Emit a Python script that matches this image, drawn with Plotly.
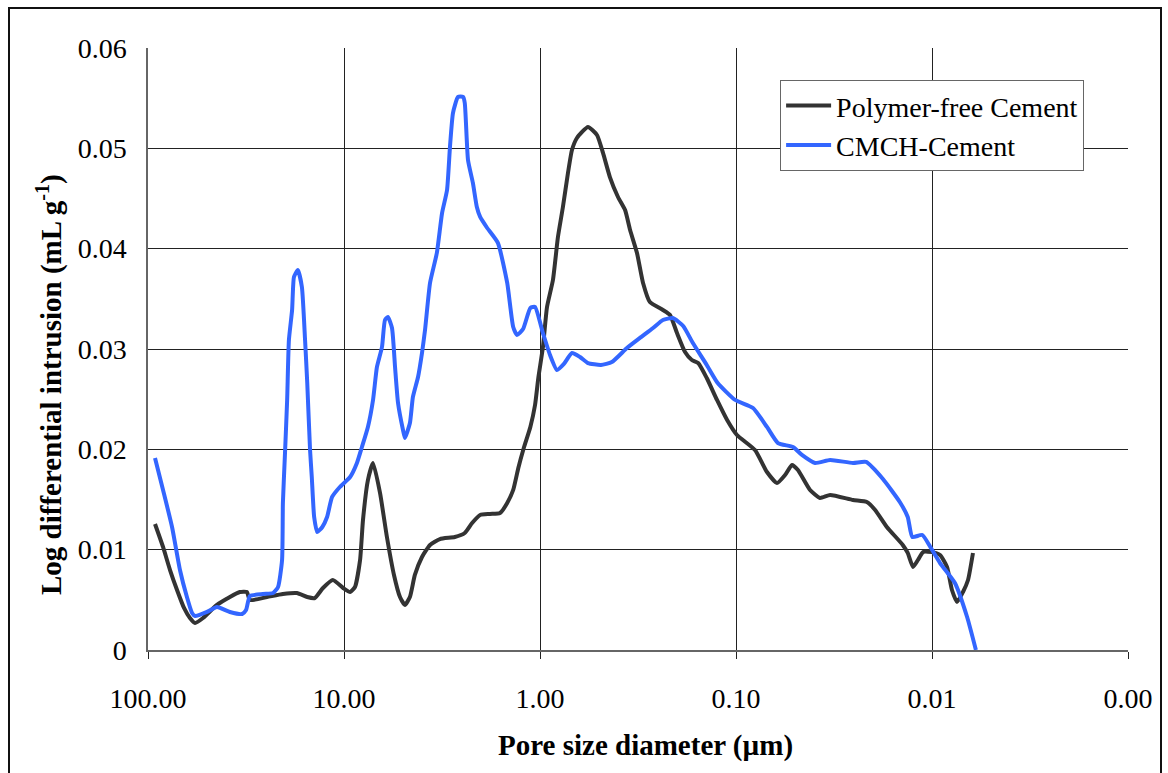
import plotly.graph_objects as go

# Polymer-free Cement: pore diameter (µm) and log differential intrusion (mL/g)
pf_diameter = [92.1, 83.8, 77.2, 71.1, 65.5, 61.1, 57.5, 52.4, 44.5, 38.2, 34.0, 31.3, 30.2,
               24.7, 20.5, 17.4, 15.4, 14.1, 12.8, 11.4, 10.1, 9.31, 8.79, 8.28, 8.00, 7.55,
               7.11, 6.55, 6.04, 5.56, 5.18, 4.89, 4.61, 4.35, 4.00, 3.64, 3.24, 2.72, 2.42,
               2.22, 2.02, 1.80, 1.60, 1.47, 1.37, 1.29, 1.21, 1.12, 1.06, 1.02, 0.966, 0.921,
               0.859, 0.810, 0.764, 0.720, 0.687, 0.648, 0.569, 0.512, 0.477, 0.440, 0.400,
               0.368, 0.347, 0.320, 0.298, 0.275, 0.236, 0.217, 0.200, 0.182, 0.168, 0.156,
               0.141, 0.125, 0.111, 0.0989, 0.0800, 0.0695, 0.0618, 0.0562, 0.0518, 0.0483,
               0.0419, 0.0373, 0.0331, 0.0253, 0.0215, 0.0195, 0.0170, 0.0141, 0.0133, 0.0125,
               0.0118, 0.0111, 0.0100, 0.00910, 0.00838, 0.00791, 0.00745, 0.00695, 0.00655,
               0.00618]
pf_intrusion = [0.01256, 0.01027, 0.00797, 0.00598, 0.00419, 0.00319, 0.00269, 0.00319, 0.00449,
                0.00528, 0.00578, 0.00578, 0.00498, 0.00528, 0.00558, 0.00568, 0.00528, 0.00518,
                0.00618, 0.00698, 0.00618, 0.00578, 0.00628, 0.00897, 0.01296, 0.01694, 0.01864,
                0.01565, 0.01126, 0.00748, 0.00528, 0.00449, 0.00528, 0.00748, 0.00927, 0.01047,
                0.01106, 0.01126, 0.01166, 0.01266, 0.01346, 0.01356, 0.01365, 0.01465, 0.01595,
                0.01814, 0.02013, 0.02223, 0.02442, 0.02711, 0.03020, 0.03419, 0.03688, 0.04116,
                0.04415, 0.04754, 0.04983, 0.05103, 0.05213, 0.05133, 0.04954, 0.04714, 0.04515,
                0.04385, 0.04186, 0.03957, 0.03658, 0.03468, 0.03389, 0.03339, 0.03159, 0.02970,
                0.02890, 0.02860, 0.02711, 0.02492, 0.02292, 0.02143, 0.01993, 0.01774, 0.01664,
                0.01744, 0.01844, 0.01794, 0.01595, 0.01515, 0.01545, 0.01495, 0.01475, 0.01395,
                0.01226, 0.01047, 0.00967, 0.00827, 0.00897, 0.00977, 0.00977, 0.00947, 0.00827,
                0.00598, 0.00478, 0.00578, 0.00698, 0.00967]

# CMCH-Cement
cm_diameter = [92.1, 83.8, 75.4, 68.7, 63.3, 59.6, 57.5, 50.0, 44.5, 38.2, 33.1, 31.6, 30.2,
               25.9, 23.0, 21.7, 20.7, 20.5, 20.0, 19.5, 19.1, 18.4, 18.0, 17.2, 16.4, 15.8,
               15.4, 14.9, 14.6, 14.2, 13.7, 12.9, 12.2, 11.5, 10.5, 9.31, 8.59, 8.10, 7.55,
               7.11, 6.79, 6.40, 6.18, 5.97, 5.69, 5.49, 5.30, 5.00, 4.89, 4.61, 4.45, 4.19,
               4.00, 3.86, 3.64, 3.36, 3.16, 2.98, 2.88, 2.78, 2.62, 2.47, 2.42, 2.33, 2.20,
               2.10, 2.02, 1.86, 1.64, 1.47, 1.37, 1.31, 1.22, 1.12, 1.06, 0.966, 0.889, 0.819,
               0.755, 0.687, 0.625, 0.569, 0.489, 0.430, 0.360, 0.309, 0.265, 0.236, 0.210,
               0.186, 0.166, 0.141, 0.124, 0.101, 0.0819, 0.0695, 0.0611, 0.0512, 0.0461,
               0.0395, 0.0331, 0.0253, 0.0217, 0.0178, 0.0146, 0.0133, 0.0126, 0.0112, 0.0102,
               0.00910, 0.00764, 0.00662, 0.00597]
cm_intrusion = [0.01914, 0.01595, 0.01226, 0.00797, 0.00528, 0.00369, 0.00339, 0.00379, 0.00429,
                0.00379, 0.00359, 0.00399, 0.00538, 0.00558, 0.00568, 0.00628, 0.00897, 0.01465,
                0.01963, 0.02492, 0.03090, 0.03389, 0.03718, 0.03787, 0.03618, 0.03090, 0.02661,
                0.01993, 0.01724, 0.01326, 0.01176, 0.01226, 0.01326, 0.01525, 0.01625, 0.01724,
                0.01864, 0.02023, 0.02223, 0.02492, 0.02821, 0.03020, 0.03289, 0.03319, 0.03209,
                0.02821, 0.02462, 0.02193, 0.02113, 0.02262, 0.02522, 0.02721, 0.02960, 0.03189,
                0.03658, 0.03957, 0.04355, 0.04585, 0.05013, 0.05352, 0.05512, 0.05512, 0.05452,
                0.04884, 0.04655, 0.04415, 0.04316, 0.04206, 0.04057, 0.03658, 0.03219, 0.03140,
                0.03199, 0.03409, 0.03419, 0.03159, 0.02940, 0.02791, 0.02851, 0.02960, 0.02920,
                0.02860, 0.02841, 0.02870, 0.03010, 0.03110, 0.03209, 0.03289, 0.03309, 0.03229,
                0.03060, 0.02841, 0.02661, 0.02492, 0.02412, 0.02223, 0.02063, 0.02023, 0.01944,
                0.01864, 0.01894, 0.01864, 0.01874, 0.01704, 0.01475, 0.01326, 0.01126, 0.01146,
                0.01027, 0.00867, 0.00668, 0.00329, 0.0]

x_tick_vals = [100, 10, 1, 0.1, 0.01, 0.001]
x_tick_text = ["100.00", "10.00", "1.00", "0.10", "0.01", "0.00"]
y_tick_vals = [0, 0.01, 0.02, 0.03, 0.04, 0.05, 0.06]
y_tick_text = ["0", "0.01", "0.02", "0.03", "0.04", "0.05", "0.06"]

x_title = "<b>Pore size diameter (µm)</b>"
y_title = "<b>Log differential intrusion (mL g<sup>-1</sup>)</b>"

FONT = "Liberation Serif, Times New Roman, serif"
FS = 28
PW, PH = 980, 602  # plot area size in px

fig = go.Figure()
fig.add_trace(go.Scatter(x=pf_diameter, y=pf_intrusion, mode="lines",
                         name="Polymer-free Cement",
                         line=dict(color="#333333", width=4, shape="spline", smoothing=0.5)))
fig.add_trace(go.Scatter(x=cm_diameter, y=cm_intrusion, mode="lines",
                         name="CMCH-Cement",
                         line=dict(color="#3366FF", width=4, shape="spline", smoothing=0.5)))

fig.update_layout(
    width=1168, height=773,
    margin=dict(l=148, r=40, t=48, b=123),
    paper_bgcolor="white", plot_bgcolor="white",
    font=dict(family=FONT, size=FS, color="black"),
    showlegend=True,
    legend=dict(x=0.645, y=0.947, xanchor="left", yanchor="top",
                bgcolor="white", bordercolor="#666666", borderwidth=1,
                font=dict(family=FONT, size=FS, color="black"),
                tracegroupgap=0, itemwidth=45),
    xaxis=dict(type="log", range=[2, -3], tickvals=x_tick_vals, ticktext=x_tick_text,
               showgrid=True, gridcolor="#222222", gridwidth=1,
               showline=True, linecolor="#666666", linewidth=1.5,
               ticks="outside", ticklen=7, tickcolor="#222222",
               ticklabelstandoff=16,
               tickfont=dict(family=FONT, size=FS), zeroline=False),
    yaxis=dict(range=[0, 0.06], tickvals=y_tick_vals, ticktext=y_tick_text,
               showgrid=True, gridcolor="#222222", gridwidth=1,
               showline=True, linecolor="#666666", linewidth=1.5,
               ticks="inside", ticklen=9, tickcolor="#222222",
               ticklabelstandoff=14,
               tickfont=dict(family=FONT, size=FS), zeroline=False),
    annotations=[
        dict(text=x_title, xref="paper", yref="paper", x=(645 - 148) / PW, y=(650 - 745) / PH,
             xanchor="center", yanchor="middle", showarrow=False,
             font=dict(family=FONT, size=29, color="black")),
        dict(text=y_title, xref="paper", yref="paper", x=(50 - 148) / PW, y=(650 - 385) / PH,
             xanchor="center", yanchor="middle", showarrow=False, textangle=-90,
             font=dict(family=FONT, size=29, color="black")),
    ],
    shapes=[dict(type="rect", xref="paper", yref="paper",
                 x0=-139 / PW, x1=1013 / PW, y0=-140 / PH, y1=642 / PH,
                 line=dict(color="#111111", width=2), fillcolor="rgba(0,0,0,0)",
                 layer="below")],
)

fig.write_html("out.html")
